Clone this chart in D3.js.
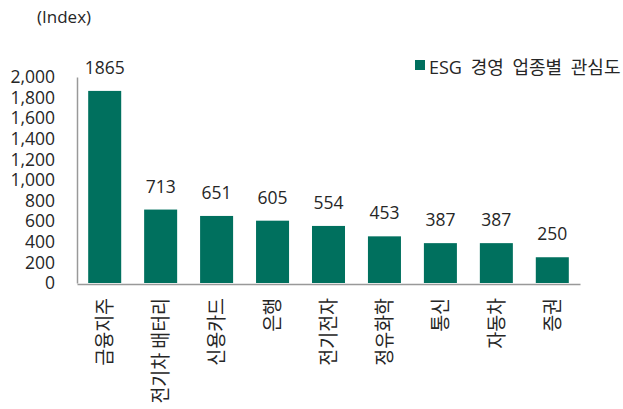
<!DOCTYPE html>
<html><head><meta charset="utf-8">
<script src="https://cdn.jsdelivr.net/npm/d3@7"></script>
<style>body{margin:0;background:#fff}svg{display:block}text{fill:#262626}</style>
</head><body><svg id="c" width="623" height="409"></svg>
<script>
const categories = ["금융지주","전기차 배터리","신용카드","은행","전기전자","정유화학","통신","자동차","증권"];
const values = [1865,713,651,605,554,453,387,387,250];
const yTicks = [0,200,400,600,800,1000,1200,1400,1600,1800,2000];
const seriesName = "ESG 경영 업종별 관심도";
const unitLabel = "(Index)";

(function(){
const svg = d3.select("#c");
const font = "'Open Sans','Noto Sans CJK KR',sans-serif";
const krFont = "'Noto Sans CJK KR','Noto Sans',sans-serif";
const mLeft = 77, mRight = 580, mTop = 77, mBottom = 284;
const x = d3.scaleBand().domain(categories).range([mLeft, mRight]).paddingInner(0.41).paddingOuter(0.2);
const y = d3.scaleLinear().domain([0,2000]).range([mBottom-1, mTop]);
const color = "#00705e";

svg.append("text").attr("x",37).attr("y",23).attr("font-family",font).attr("font-size",17).text(unitLabel);

svg.selectAll("rect.bar").data(values).join("rect").attr("class","bar")
  .attr("x",(d,i)=>x(categories[i])).attr("width",x.bandwidth())
  .attr("y",d=>y(d)).attr("height",d=>y(0)-y(d)).attr("fill",color);

svg.selectAll("text.val").data(values).join("text").attr("class","val")
  .attr("x",(d,i)=>x(categories[i])+x.bandwidth()/2).attr("y",d=>y(d)-17)
  .attr("text-anchor","middle").attr("font-family",font).attr("font-size",17.5).text(d=>d);

const yAxis = svg.append("g").attr("transform",`translate(${mLeft},0)`)
  .call(d3.axisLeft(y).tickValues(yTicks).tickSize(0).tickPadding(22).tickFormat(d3.format(",")));
yAxis.select(".domain").attr("stroke","#999").attr("stroke-width",1.5);
yAxis.selectAll("text").attr("font-family",font).attr("font-size",17.5).attr("fill","#262626");

const xAxis = svg.append("g").attr("transform",`translate(0,${mBottom})`)
  .call(d3.axisBottom(x).tickSize(0).tickSizeOuter(0));
xAxis.select(".domain").attr("stroke","#999").attr("stroke-width",1.5);
xAxis.selectAll("text").attr("font-family",krFont).attr("font-size",20).attr("fill","#262626")
  .attr("text-anchor","end").attr("dy","0.36em")
  .attr("transform","translate(0,14) rotate(-90) scale(0.92,1)").attr("x",0).attr("y",0);

const lg = svg.append("g").attr("transform","translate(415,60)");
lg.append("rect").attr("width",10).attr("height",10).attr("fill",color);
lg.append("text").attr("x",14).attr("y",14).attr("font-family",font).attr("font-size",18)
  .attr("word-spacing",4).text(seriesName);
})();
</script></body></html>
